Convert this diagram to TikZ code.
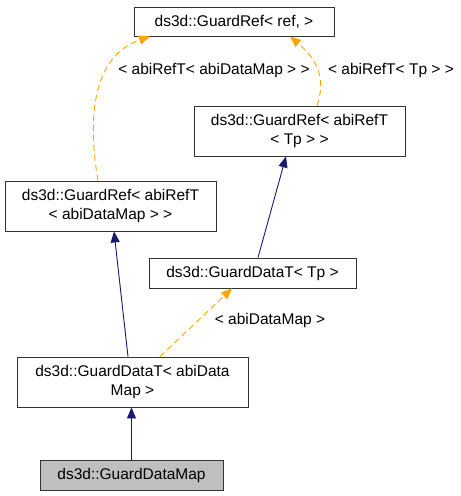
\documentclass[tikz,border=0pt]{standalone}
\usepackage{fontspec}
\setmainfont{Liberation Sans}
\usetikzlibrary{arrows.meta,calc}
\definecolor{inhblue}{HTML}{191970}
\definecolor{tmplorange}{HTML}{FFA500}
\begin{document}
\begin{tikzpicture}[
        x=1pt, y=-1pt,
        % Klassenknoten
        cls/.style={
            rectangle, draw=black!80, fill=white, line width=0.9pt,
            align=center, inner sep=0pt,
            font=\fontsize{15.5}{19}\selectfont
        },
        % dargestellte Klasse
        leaf/.style={cls, fill=black!25},
        % Vererbung
        inh/.style={draw=inhblue, line width=0.9pt,
            -{Triangle[length=11pt,width=9pt,fill=inhblue]}},
        % Template-Instanz
        tmpl/.style={draw=tmplorange, line width=0.9pt, dash pattern=on 6pt off 4pt,
            -{Triangle[length=11pt,width=9pt,fill=tmplorange]}},
        % Kantenbeschriftung
        lbl/.style={inner sep=0pt, font=\fontsize{15.5}{19}\selectfont}
    ]
        \useasboundingbox (0,0) rectangle (461,496);

        % Klassen
        \node [cls, minimum width=200pt, minimum height=29pt] (ref) at (234,21.5) {ds3d::GuardRef< ref, >};
        \node [cls, minimum width=211pt, minimum height=50pt] (reftp) at (299.5,131) {ds3d::GuardRef< abiRefT\\< Tp > >};
        \node [cls, minimum width=211pt, minimum height=50pt] (refmap) at (110.5,206) {ds3d::GuardRef< abiRefT\\< abiDataMap > >};
        \node [cls, minimum width=207pt, minimum height=30pt] (datatp) at (252.5,273) {ds3d::GuardDataT< Tp >};
        \node [cls, minimum width=231pt, minimum height=50pt] (datamap) at (132.5,382) {ds3d::GuardDataT< abiData\\Map >};
        \node [leaf, minimum width=183pt, minimum height=30pt] (guard) at (131.5,475) {ds3d::GuardDataMap};

        % Beschriftungen
        \node [lbl] (lrefmap) at (214,70) {< abiRefT< abiDataMap > >};
        \node [lbl] (lreftp) at (391,70) {< abiRefT< Tp > >};
        \node [lbl] (ldatamap) at (270,320) {< abiDataMap >};

        % Kanten
        \draw [tmpl] ([xshift=-12.5pt]refmap.north) .. controls (86,110) and (96,55) .. ([xshift=-84pt]ref.south);
        \draw [tmpl] ([xshift=17.5pt]reftp.north) .. controls (326,80) and (318,60) .. ([xshift=56pt]ref.south);
        \draw [inh] ([xshift=5.5pt]datatp.north) -- ([xshift=-13.5pt]reftp.south);
        \draw [inh] ([xshift=-4.5pt]datamap.north) -- ([xshift=3.5pt]refmap.south);
        \draw [tmpl] ([xshift=27.5pt]datamap.north) -- ([xshift=-20.5pt]datatp.south);
        \draw [inh] (guard.north) -- (guard.north |- datamap.south);

    \end{tikzpicture}
\end{document}
